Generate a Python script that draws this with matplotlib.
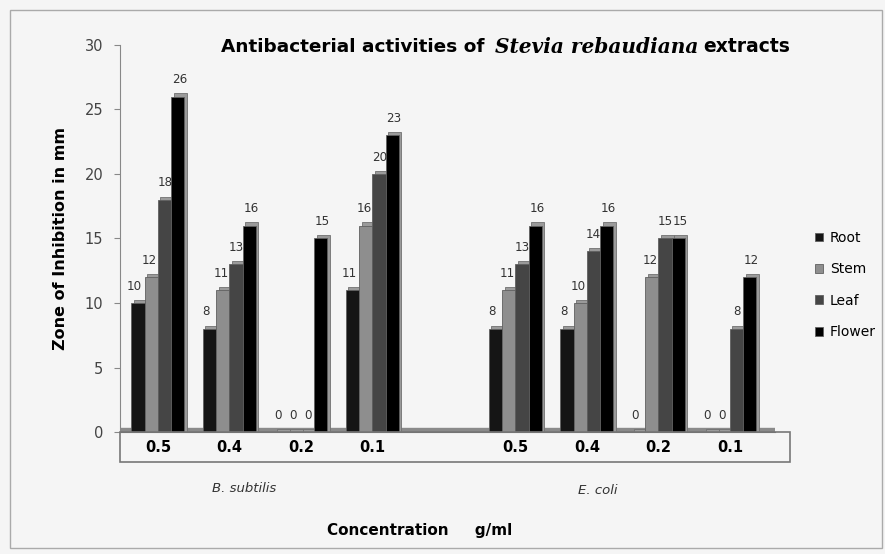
import numpy as np
import matplotlib.pyplot as plt
from matplotlib.patches import Rectangle

# Data (zone of inhibition, mm)
concentrations = ['0.5', '0.4', '0.2', '0.1', '', '0.5', '0.4', '0.2', '0.1']
organisms = ['B. subtilis', 'E. coli']
series = ['Root', 'Stem', 'Leaf', 'Flower']
root = [10, 8, 0, 11, None, 8, 8, 0, 0]
stem = [12, 11, 0, 16, None, 11, 10, 12, 0]
leaf = [18, 13, 0, 20, None, 13, 14, 15, 8]
flower = [26, 16, 15, 23, None, 16, 16, 15, 12]
colors = ['#151515', '#8e8e8e', '#454545', '#000000']

W, H = 885, 554
fig = plt.figure(figsize=(W / 100, H / 100), dpi=100)
fig.patch.set_facecolor('#f5f5f5')
ax = fig.add_axes([120 / W, 1 - 432 / H, 655 / W, 387 / H])
ax.set_facecolor('#f5f5f5')

x = np.arange(len(concentrations))
bw = 0.185
for i, (name, vals, c) in enumerate(zip(series, [root, stem, leaf, flower], colors)):
    xs = [xi + (i - 1.5) * bw for xi, v in zip(x, vals) if v is not None]
    vs = [v for v in vals if v is not None]
    # fake 3D depth
    ax.bar(np.array(xs) + 0.035, np.array(vs) + 0.25, width=bw, color='#9a9a9a',
           edgecolor='#707070', linewidth=0.6, zorder=2)
    ax.bar(xs, vs, width=bw, color=c, edgecolor='#606060', linewidth=0.6,
           zorder=3, label=name)
    spread = (i - 1.5) * 0.025
    for xx, v in zip(xs, vs):
        ax.text(xx - 0.01 + spread, v + 0.8, str(v), ha='center', va='bottom',
                fontsize=8.6, color='#333333', zorder=5)

# floor
ax.axhspan(-0.05, 0.3, color='#8a8a8a', zorder=1)

ax.set_xlim(-0.53, 8.63)
ax.set_ylim(0, 30)
ax.set_yticks(range(0, 31, 5))
ax.tick_params(axis='y', length=4, color='#888888', labelsize=10.5,
               labelcolor='#444444', pad=8)
ax.set_xticks(x)
ax.set_xticklabels(concentrations, fontsize=10.5, fontweight='bold')
ax.tick_params(axis='x', length=0, pad=6)
for s in ['top', 'right']:
    ax.spines[s].set_visible(False)
ax.spines['left'].set_color('#888888')
ax.spines['bottom'].set_color('#666666')

# box around the category labels
fig.patches.append(Rectangle((120 / W, 1 - 462 / H), 670 / W, 30 / H,
                             transform=fig.transFigure, fill=False,
                             edgecolor='#777777', linewidth=1.2))
# outer frame
fig.patches.append(Rectangle((10 / W, 1 - 548 / H), 872 / W, 538 / H,
                             transform=fig.transFigure, fill=False,
                             edgecolor='#aaaaaa', linewidth=1.0))

ax.set_ylabel('Zone of Inhibition in mm', fontsize=11.5, fontweight='bold', labelpad=12)

fig.text(244 / W, 1 - 488 / H, organisms[0], ha='center', va='center',
         fontsize=9.5, style='italic', color='#333333')
fig.text(598 / W, 1 - 490 / H, organisms[1], ha='center', va='center',
         fontsize=9.5, style='italic', color='#333333')
fig.text(420 / W, 1 - 530 / H, 'Concentration     g/ml', ha='center', va='center',
         fontsize=11, fontweight='bold')

# title: mixed fonts
y_t = 1 - 47 / H
t1 = fig.text(221 / W, y_t, 'Antibacterial activities of ', ha='left', va='center',
              fontsize=13.3, fontweight='bold')
fig.canvas.draw()
bb = t1.get_window_extent()
t2 = fig.text(bb.x1 / W + 4 / W, y_t, 'Stevia rebaudiana', ha='left', va='center',
              fontsize=14.5, fontweight='bold', style='italic', family='DejaVu Serif')
bb2 = t2.get_window_extent()
fig.text(bb2.x1 / W + 5 / W, y_t, 'extracts', ha='left', va='center',
         fontsize=13.5, fontweight='bold')

handles, labels = ax.get_legend_handles_labels()
fig.legend(handles, labels, loc='center left', bbox_to_anchor=(802 / W, 1 - 285 / H),
           frameon=False, fontsize=10, handlelength=0.6, handleheight=0.6,
           labelspacing=1.25, handletextpad=0.5)

fig.savefig('out.png', dpi=100, facecolor=fig.get_facecolor())
